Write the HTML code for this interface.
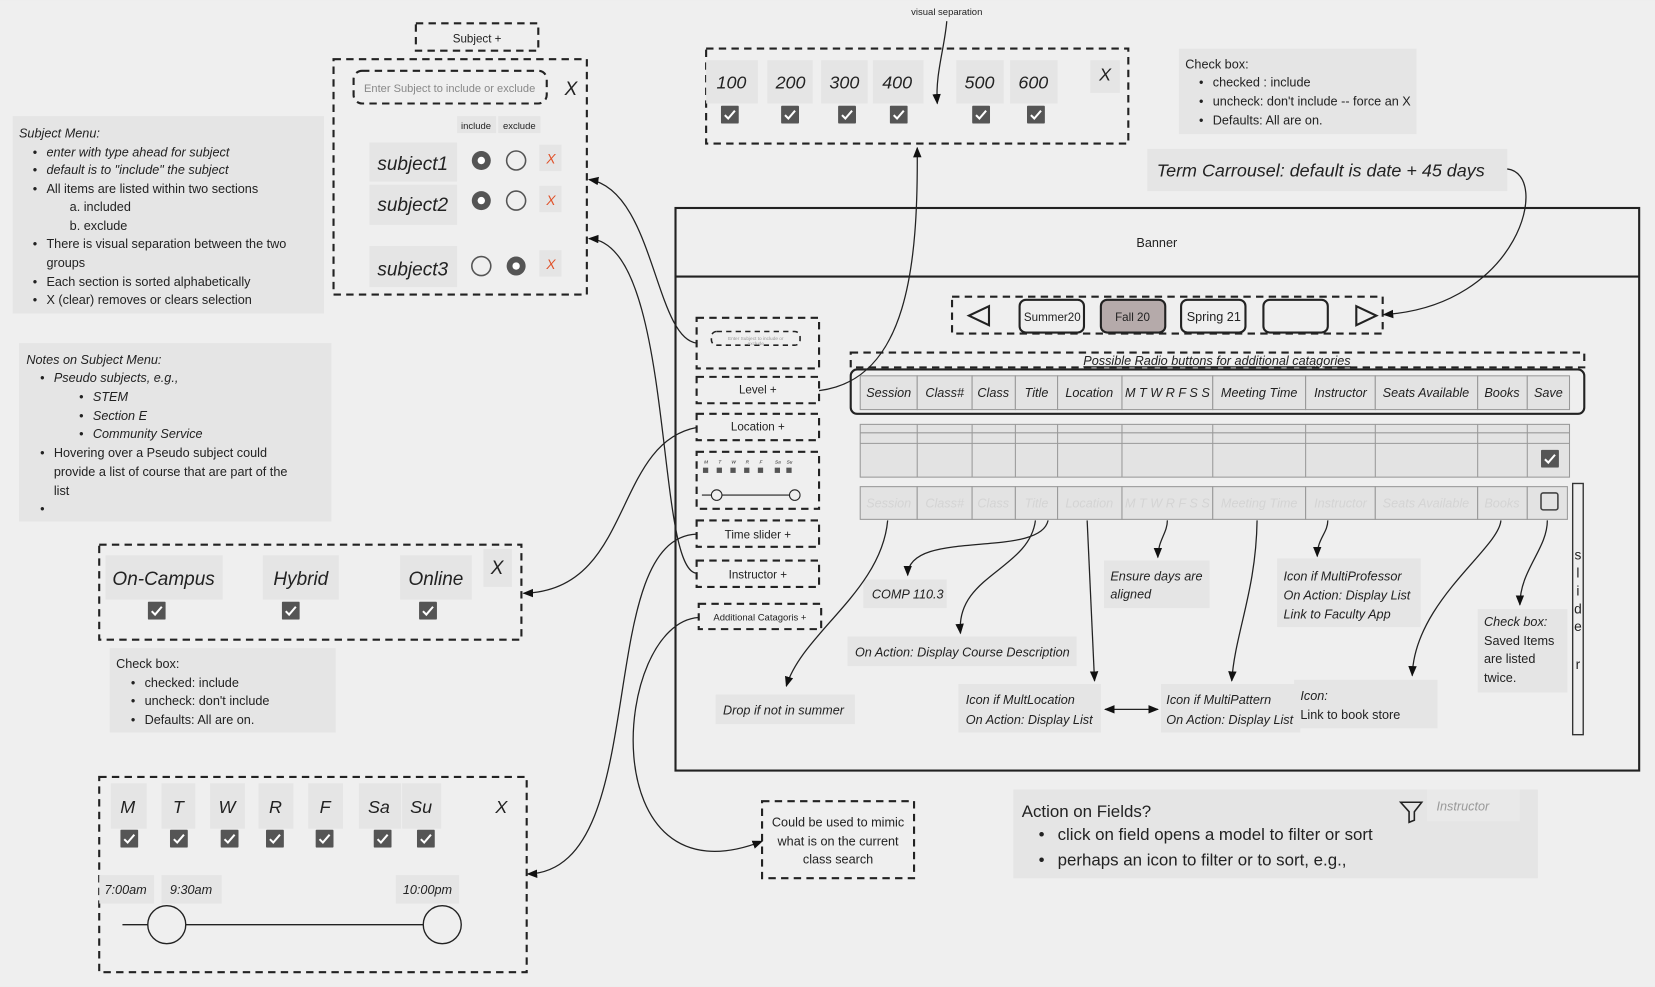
<!DOCTYPE html>
<html><head><meta charset="utf-8"><style>
html,body{margin:0;padding:0;background:#efefef;}
svg{display:block;}
text{font-family:"Liberation Sans",sans-serif;fill:#222;}
.it{font-style:italic;}
.d{fill:none;stroke:#222;stroke-width:2;stroke-dasharray:7,5;}
.n{fill:#e5e5e5;}
.c{fill:none;stroke:#222;stroke-width:1.2;}
.h{fill:#e3e3e3;stroke:#999;stroke-width:1;}
.f{fill:#c8c8c8;}
</style></head><body>
<svg width="1655" height="987" viewBox="0 0 1568 935" xmlns="http://www.w3.org/2000/svg">
<defs>
<marker id="a" markerWidth="10" markerHeight="10" refX="9" refY="5" orient="auto" markerUnits="userSpaceOnUse"><path d="M0,1 L10,5 L0,9 Z" fill="#111"/></marker>
<marker id="b" markerWidth="10" markerHeight="10" refX="1" refY="5" orient="auto" markerUnits="userSpaceOnUse"><path d="M10,1 L0,5 L10,9 Z" fill="#111"/></marker>
<symbol id="cb" viewBox="0 0 16 16"><rect x="0" y="0" width="16" height="16" rx="1" fill="#555"/><path d="M3.5,8.5 L6.5,11.5 L12.5,4.5" stroke="#fff" stroke-width="1.8" fill="none"/></symbol>
</defs>
<rect width="1568" height="935" fill="#efefef"/>

<!-- Subject tab & panel -->
<rect class="d" x="394" y="22" width="116" height="26"/>
<text x="452" y="40" font-size="11" text-anchor="middle">Subject   +</text>
<rect class="d" x="316" y="56" width="240" height="223"/>
<rect class="d" x="335" y="67" width="183" height="31" rx="8"/>
<text x="426" y="87" font-size="10.5" fill="#888" style="fill:#888" text-anchor="middle">Enter Subject to include or exclude</text>
<text x="541" y="90" font-size="18" class="it" text-anchor="middle">X</text>
<rect class="n" x="433" y="110" width="37" height="16"/><text x="451" y="122" font-size="9" text-anchor="middle">include</text>
<rect class="n" x="472" y="110" width="40" height="16"/><text x="492" y="122" font-size="9" text-anchor="middle">exclude</text>
<rect class="n" x="350" y="135" width="83" height="37"/><text x="391" y="161" font-size="18" class="it" text-anchor="middle">subject1</text>
<rect class="n" x="350" y="175" width="83" height="38"/><text x="391" y="200" font-size="18" class="it" text-anchor="middle">subject2</text>
<rect class="n" x="350" y="233" width="83" height="39"/><text x="391" y="261" font-size="18" class="it" text-anchor="middle">subject3</text>
<circle cx="456" cy="152" r="9" fill="#555"/><circle cx="456" cy="152" r="3.5" fill="#fff"/>
<circle cx="489" cy="152" r="9" fill="none" stroke="#555" stroke-width="1.5"/>
<circle cx="456" cy="190" r="9" fill="#555"/><circle cx="456" cy="190" r="3.5" fill="#fff"/>
<circle cx="489" cy="190" r="9" fill="none" stroke="#555" stroke-width="1.5"/>
<circle cx="456" cy="252" r="9" fill="none" stroke="#555" stroke-width="1.5"/>
<circle cx="489" cy="252" r="9" fill="#555"/><circle cx="489" cy="252" r="3.5" fill="#fff"/>
<rect class="n" x="511" y="137" width="21" height="25"/><text x="522" y="155" font-size="13" class="it" style="fill:#e0522a" text-anchor="middle">X</text>
<rect class="n" x="511" y="176" width="21" height="25"/><text x="522" y="194" font-size="13" class="it" style="fill:#e0522a" text-anchor="middle">X</text>
<rect class="n" x="511" y="237" width="21" height="25"/><text x="522" y="255" font-size="13" class="it" style="fill:#e0522a" text-anchor="middle">X</text>

<!-- Note 1 -->
<rect class="n" x="12" y="110" width="295" height="187"/>
<g font-size="12">
<text x="18" y="130" class="it">Subject  Menu:</text>
<text x="31" y="148">•</text><text x="44" y="148" class="it">enter with type ahead for subject</text>
<text x="31" y="165">•</text><text x="44" y="165" class="it">default is to "include" the subject</text>
<text x="31" y="183">•</text><text x="44" y="183">All items are listed within two sections</text>
<text x="66" y="200">a. included</text>
<text x="66" y="218">b. exclude</text>
<text x="31" y="235">•</text><text x="44" y="235">There is visual separation between the two</text>
<text x="44" y="253">groups</text>
<text x="31" y="271">•</text><text x="44" y="271">Each section is sorted alphabetically</text>
<text x="31" y="288">•</text><text x="44" y="288">X (clear) removes or clears selection</text>
</g>
<!-- Note 2 -->
<rect class="n" x="18" y="325" width="296" height="169"/>
<g font-size="12">
<text x="25" y="345" class="it">Notes on Subject Menu:</text>
<text x="38" y="362">•</text><text x="51" y="362" class="it">Pseudo subjects, e.g.,</text>
<text x="75" y="380">•</text><text x="88" y="380" class="it">STEM</text>
<text x="75" y="398">•</text><text x="88" y="398" class="it">Section E</text>
<text x="75" y="415">•</text><text x="88" y="415" class="it">Community Service</text>
<text x="38" y="433">•</text><text x="51" y="433">Hovering over a Pseudo subject could</text>
<text x="51" y="451">provide a list of course that are part of the</text>
<text x="51" y="469">list</text>
<text x="38" y="486">•</text>
</g>

<!-- Location panel -->
<rect class="d" x="94" y="516" width="400" height="90"/>
<rect class="n" x="100" y="526" width="111" height="42"/><text x="155" y="554" font-size="18" class="it" text-anchor="middle">On-Campus</text>
<rect class="n" x="249" y="526" width="72" height="42"/><text x="285" y="554" font-size="18" class="it" text-anchor="middle">Hybrid</text>
<rect class="n" x="379" y="526" width="68" height="42"/><text x="413" y="554" font-size="18" class="it" text-anchor="middle">Online</text>
<rect class="n" x="458" y="520" width="27" height="36"/><text x="471" y="544" font-size="18" class="it" text-anchor="middle">X</text>
<use href="#cb" x="140" y="570" width="17" height="17"/>
<use href="#cb" x="267" y="570" width="17" height="17"/>
<use href="#cb" x="397" y="570" width="17" height="17"/>
<rect class="n" x="104" y="614" width="214" height="80"/>
<g font-size="12">
<text x="110" y="633">Check box:</text>
<text x="124" y="651">•</text><text x="137" y="651">checked: include</text>
<text x="124" y="668">•</text><text x="137" y="668">uncheck: don't include</text>
<text x="124" y="686">•</text><text x="137" y="686">Defaults: All are on.</text>
</g>

<!-- Days panel -->
<rect class="d" x="94" y="736" width="405" height="185"/>
<g font-size="17" class="it" text-anchor="middle">
<rect class="n" x="105" y="742" width="34" height="43"/><text x="121" y="770">M</text>
<rect class="n" x="153" y="742" width="32" height="43"/><text x="169" y="770">T</text>
<rect class="n" x="199" y="742" width="33" height="43"/><text x="215" y="770">W</text>
<rect class="n" x="245" y="742" width="33" height="43"/><text x="261" y="770">R</text>
<rect class="n" x="292" y="742" width="33" height="43"/><text x="308" y="770">F</text>
<rect class="n" x="340" y="742" width="40" height="43"/><text x="359" y="770">Sa</text>
<rect class="n" x="381" y="742" width="37" height="43"/><text x="399" y="770">Su</text>
<text x="475" y="770">X</text>
</g>
<use href="#cb" x="114" y="786" width="17" height="17"/>
<use href="#cb" x="161" y="786" width="17" height="17"/>
<use href="#cb" x="209" y="786" width="17" height="17"/>
<use href="#cb" x="252" y="786" width="17" height="17"/>
<use href="#cb" x="299" y="786" width="17" height="17"/>
<use href="#cb" x="354" y="786" width="17" height="17"/>
<use href="#cb" x="395" y="786" width="17" height="17"/>
<rect class="n" x="94" y="829" width="52" height="27"/><text x="119" y="847" font-size="12" class="it" text-anchor="middle">7:00am</text>
<rect class="n" x="153" y="829" width="57" height="27"/><text x="181" y="847" font-size="12" class="it" text-anchor="middle">9:30am</text>
<rect class="n" x="375" y="829" width="60" height="27"/><text x="405" y="847" font-size="12" class="it" text-anchor="middle">10:00pm</text>
<line x1="116" y1="876" x2="420" y2="876" stroke="#222" stroke-width="1.3"/>
<circle cx="158" cy="876" r="18" fill="#efefef" stroke="#222" stroke-width="1.3"/>
<circle cx="419" cy="876" r="18" fill="#efefef" stroke="#222" stroke-width="1.3"/>

<!-- Level panel -->
<text x="897" y="14" font-size="9" text-anchor="middle">visual separation</text>
<path class="c" d="M897,20 C895,45 886,70 888,98" marker-end="url(#a)"/>
<rect class="d" x="669" y="46" width="400" height="90"/>
<g font-size="17" class="it" text-anchor="middle">
<rect class="n" x="669" y="57" width="49" height="41"/><text x="693" y="84">100</text>
<rect class="n" x="727" y="57" width="43" height="41"/><text x="749" y="84">200</text>
<rect class="n" x="778" y="57" width="44" height="41"/><text x="800" y="84">300</text>
<rect class="n" x="827" y="57" width="48" height="41"/><text x="850" y="84">400</text>
<rect class="n" x="906" y="57" width="45" height="41"/><text x="928" y="84">500</text>
<rect class="n" x="957" y="57" width="45" height="41"/><text x="979" y="84">600</text>
<rect class="n" x="1033" y="57" width="28" height="31"/><text x="1047" y="76">X</text>
</g>
<use href="#cb" x="683" y="100" width="17" height="17"/>
<use href="#cb" x="740" y="100" width="17" height="17"/>
<use href="#cb" x="794" y="100" width="17" height="17"/>
<use href="#cb" x="843" y="100" width="17" height="17"/>
<use href="#cb" x="921" y="100" width="17" height="17"/>
<use href="#cb" x="973" y="100" width="17" height="17"/>

<rect class="n" x="1117" y="46" width="225" height="81"/>
<g font-size="12">
<text x="1123" y="65">Check box:</text>
<text x="1136" y="82">•</text><text x="1149" y="82">checked :  include</text>
<text x="1136" y="100">•</text><text x="1149" y="100">uncheck: don't include -- force an X</text>
<text x="1136" y="118">•</text><text x="1149" y="118">Defaults: All are on.</text>
</g>
<rect class="n" x="1087" y="141" width="341" height="40"/>
<text x="1096" y="167" font-size="17" class="it">Term Carrousel: default is date  + 45 days</text>

<!-- Main frame -->
<rect x="640" y="197" width="913" height="533" fill="none" stroke="#222" stroke-width="2"/>
<line x1="640" y1="262" x2="1553" y2="262" stroke="#222" stroke-width="2"/>
<text x="1096" y="234" font-size="12" text-anchor="middle">Banner</text>

<rect class="d" x="902" y="281" width="408" height="35"/>
<path d="M937,290 L918,299 L937,308 Z" fill="none" stroke="#222" stroke-width="2"/>
<path d="M1285,290 L1304,299 L1285,308 Z" fill="none" stroke="#222" stroke-width="2"/>
<rect x="966" y="284" width="61" height="31" rx="6" fill="none" stroke="#222" stroke-width="2"/><text x="997" y="304" font-size="11" text-anchor="middle">Summer20</text>
<rect x="1043" y="284" width="61" height="31" rx="6" fill="#b5aaaa" stroke="#222" stroke-width="2"/><text x="1073" y="304" font-size="11" text-anchor="middle">Fall 20</text>
<rect x="1119" y="284" width="61" height="31" rx="6" fill="none" stroke="#222" stroke-width="2"/><text x="1150" y="304" font-size="12" text-anchor="middle">Spring 21</text>
<rect x="1197" y="284" width="61" height="31" rx="6" fill="none" stroke="#222" stroke-width="2"/>

<rect class="d" x="806" y="334" width="695" height="14"/>
<text x="1153" y="346" font-size="12" class="it" text-anchor="middle" text-decoration="underline">Possible Radio buttons for additional catagories</text>
<rect x="806" y="350" width="695" height="42" rx="6" fill="none" stroke="#222" stroke-width="2"/>
<g font-size="12" class="it" text-anchor="middle">
<rect class="h" x="815" y="356" width="54" height="32"/><text x="842" y="376">Session</text>
<rect class="h" x="869" y="356" width="52" height="32"/><text x="895" y="376">Class#</text>
<rect class="h" x="921" y="356" width="41" height="32"/><text x="941" y="376">Class</text>
<rect class="h" x="962" y="356" width="40" height="32"/><text x="982" y="376">Title</text>
<rect class="h" x="1002" y="356" width="61" height="32"/><text x="1032" y="376">Location</text>
<rect class="h" x="1063" y="356" width="86" height="32"/><text x="1106" y="376">M T W R F S S</text>
<rect class="h" x="1149" y="356" width="88" height="32"/><text x="1193" y="376">Meeting Time</text>
<rect class="h" x="1237" y="356" width="66" height="32"/><text x="1270" y="376">Instructor</text>
<rect class="h" x="1303" y="356" width="97" height="32"/><text x="1351" y="376">Seats Available</text>
<rect class="h" x="1400" y="356" width="47" height="32"/><text x="1423" y="376">Books</text>
<rect class="h" x="1447" y="356" width="40" height="32"/><text x="1467" y="376">Save</text>
</g>
<!-- grid row -->
<rect class="h" x="815" y="402" width="672" height="50"/>
<g stroke="#999" stroke-width="1">
<line x1="815" y1="410" x2="1487" y2="410"/><line x1="815" y1="420" x2="1487" y2="420"/>
<line x1="869" y1="402" x2="869" y2="452"/><line x1="921" y1="402" x2="921" y2="452"/><line x1="962" y1="402" x2="962" y2="452"/><line x1="1002" y1="402" x2="1002" y2="452"/><line x1="1063" y1="402" x2="1063" y2="452"/><line x1="1149" y1="402" x2="1149" y2="452"/><line x1="1237" y1="402" x2="1237" y2="452"/><line x1="1303" y1="402" x2="1303" y2="452"/><line x1="1400" y1="402" x2="1400" y2="452"/><line x1="1447" y1="402" x2="1447" y2="452"/>
</g>
<use href="#cb" x="1460" y="426" width="17" height="17"/>
<g font-size="12" class="it" text-anchor="middle" style="fill:#d6d6d6">
<rect class="h" x="815" y="461" width="54" height="31"/><text x="842" y="481" style="fill:#d4d4d4">Session</text>
<rect class="h" x="869" y="461" width="52" height="31"/><text x="895" y="481" style="fill:#d4d4d4">Class#</text>
<rect class="h" x="921" y="461" width="41" height="31"/><text x="941" y="481" style="fill:#d4d4d4">Class</text>
<rect class="h" x="962" y="461" width="40" height="31"/><text x="982" y="481" style="fill:#d4d4d4">Title</text>
<rect class="h" x="1002" y="461" width="61" height="31"/><text x="1032" y="481" style="fill:#d4d4d4">Location</text>
<rect class="h" x="1063" y="461" width="86" height="31"/><text x="1106" y="481" style="fill:#d4d4d4">M T W R F S S</text>
<rect class="h" x="1149" y="461" width="88" height="31"/><text x="1193" y="481" style="fill:#d4d4d4">Meeting Time</text>
<rect class="h" x="1237" y="461" width="66" height="31"/><text x="1270" y="481" style="fill:#d4d4d4">Instructor</text>
<rect class="h" x="1303" y="461" width="97" height="31"/><text x="1351" y="481" style="fill:#d4d4d4">Seats Available</text>
<rect class="h" x="1400" y="461" width="47" height="31"/><text x="1423" y="481" style="fill:#d4d4d4">Books</text>
<rect class="h" x="1447" y="461" width="38" height="31"/>
</g>
<rect x="1460" y="467" width="16" height="16" rx="2" fill="none" stroke="#444" stroke-width="1.5"/>
<rect x="1490" y="458" width="10" height="238" fill="none" stroke="#333" stroke-width="1.3"/>
<g font-size="13" text-anchor="middle"><text x="1495" y="530">s</text><text x="1495" y="547">l</text><text x="1495" y="564">i</text><text x="1495" y="581">d</text><text x="1495" y="598">e</text><text x="1495" y="634">r</text></g>

<!-- Left column boxes -->
<rect class="d" x="660" y="301" width="116" height="48"/>
<rect x="674" y="314" width="84" height="13" rx="5" fill="none" stroke="#222" stroke-width="1.5" stroke-dasharray="5,4"/>
<text x="716" y="322" font-size="4.5" text-anchor="middle" style="fill:#999">Enter Subject to include or</text>
<text x="716" y="327" font-size="4.5" text-anchor="middle" style="fill:#999">exclude</text>
<rect class="d" x="660" y="357" width="116" height="25"/><text x="718" y="373" font-size="11" text-anchor="middle">Level    +</text>
<rect class="d" x="660" y="392" width="116" height="25"/><text x="718" y="408" font-size="11" text-anchor="middle">Location +</text>
<rect class="d" x="660" y="428" width="116" height="54"/>
<g font-size="4.5" class="it" text-anchor="middle"><text x="669" y="439">M</text><text x="682" y="439">T</text><text x="695" y="439">W</text><text x="708" y="439">R</text><text x="721" y="439">F</text><text x="737" y="439">Sa</text><text x="748" y="439">Su</text></g>
<g fill="#555"><rect x="666" y="443" width="5" height="5"/><rect x="679" y="443" width="5" height="5"/><rect x="692" y="443" width="5" height="5"/><rect x="705" y="443" width="5" height="5"/><rect x="718" y="443" width="5" height="5"/><rect x="734" y="443" width="5" height="5"/><rect x="745" y="443" width="5" height="5"/></g>
<line x1="665" y1="469" x2="753" y2="469" stroke="#222"/>
<circle cx="679" cy="469" r="5" fill="#efefef" stroke="#222"/><circle cx="753" cy="469" r="5" fill="#efefef" stroke="#222"/>
<rect class="d" x="660" y="493" width="116" height="25"/><text x="718" y="510" font-size="11" text-anchor="middle">Time slider +</text>
<rect class="d" x="660" y="531" width="116" height="25"/><text x="718" y="548" font-size="11" text-anchor="middle">Instructor    +</text>
<rect class="d" x="662" y="572" width="116" height="24"/><text x="720" y="588" font-size="9" text-anchor="middle">Additional Catagoris    +</text>

<!-- In-frame notes -->
<g font-size="12" class="it">
<rect class="n" x="818" y="549" width="79" height="27"/><text x="826" y="567">COMP 110.3</text>
<rect class="n" x="803" y="603" width="217" height="28"/><text x="810" y="622">On Action: Display Course Description</text>
<rect class="n" x="1046" y="531" width="100" height="45"/><text x="1052" y="550">Ensure days are</text><text x="1052" y="567">aligned</text>
<rect class="n" x="1210" y="529" width="136" height="65"/><text x="1216" y="550">Icon if MultiProfessor</text><text x="1216" y="568">On Action: Display List</text><text x="1216" y="586">Link to Faculty App</text>
<rect class="n" x="678" y="658" width="132" height="28"/><text x="685" y="677">Drop if not in summer</text>
<rect class="n" x="908" y="648" width="135" height="46"/><text x="915" y="667">Icon if MultLocation</text><text x="915" y="686">On Action: Display List</text>
<rect class="n" x="1100" y="648" width="132" height="46"/><text x="1105" y="667">Icon if MultiPattern</text><text x="1105" y="686">On Action: Display List</text>
<rect class="n" x="1226" y="644" width="136" height="46"/><text x="1232" y="663">Icon:</text>
<rect class="n" x="1400" y="577" width="85" height="79"/><text x="1406" y="593">Check box:</text>
</g>
<g font-size="12">
<text x="1232" y="681">Link to book store</text>
<text x="1406" y="611">Saved Items</text><text x="1406" y="628">are listed</text><text x="1406" y="646">twice.</text>
</g>

<!-- connectors in frame -->
<path class="c" d="M841,493 C835,560 760,600 745,650" marker-end="url(#a)"/>
<path class="c" d="M993,493 C985,530 860,500 860,545" marker-end="url(#a)"/>
<path class="c" d="M981,493 C975,540 905,545 910,600" marker-end="url(#a)"/>
<path class="c" d="M1030,493 L1037,645" marker-end="url(#a)"/>
<path class="c" d="M1106,493 C1106,505 1097,512 1097,528" marker-end="url(#a)"/>
<path class="c" d="M1191,493 C1190,560 1170,600 1167,645" marker-end="url(#a)"/>
<path class="c" d="M1258,493 C1258,505 1248,510 1248,527" marker-end="url(#a)"/>
<path class="c" d="M1422,493 C1420,520 1340,570 1338,640" marker-end="url(#a)"/>
<path class="c" d="M1466,493 C1466,520 1440,540 1440,573" marker-end="url(#a)"/>
<path class="c" d="M1047,672 L1097,672" marker-start="url(#b)" marker-end="url(#a)"/>

<!-- long connectors -->
<path class="c" d="M660,325 C620,320 620,180 558,170" marker-end="url(#a)"/>
<path class="c" d="M660,543 C620,540 640,230 558,226" marker-end="url(#a)"/>
<path class="c" d="M776,370 C860,360 870,250 869,140" marker-end="url(#a)"/>
<path class="c" d="M660,405 C580,420 600,560 496,562" marker-end="url(#a)"/>
<path class="c" d="M660,506 C560,510 620,825 500,828" marker-end="url(#a)"/>
<path class="c" d="M662,585 C580,590 560,860 722,797" marker-end="url(#a)"/>
<path class="c" d="M1428,160 C1470,165 1440,290 1311,298" marker-end="url(#a)"/>

<rect class="d" x="722" y="759" width="144" height="73"/>
<g font-size="12" text-anchor="middle"><text x="794" y="783">Could be used to mimic</text><text x="794" y="801">what is on the current</text><text x="794" y="818">class search</text></g>

<!-- Action note -->
<rect class="n" x="960" y="748" width="497" height="84"/>
<text x="968" y="774" font-size="16">Action on Fields?</text>
<text x="984" y="796" font-size="16">•</text><text x="1002" y="796" font-size="16">click on field opens a model to filter or sort</text>
<text x="984" y="820" font-size="16">•</text><text x="1002" y="820" font-size="16">perhaps an icon to filter or to sort, e.g.,</text>
<path d="M1327,760 L1347,760 L1340,769 L1340,777 L1335,779 L1335,769 Z" fill="none" stroke="#222" stroke-width="1.5"/>
<rect x="1352" y="748" width="88" height="30" fill="#e9e9e9"/>
<text x="1361" y="768" font-size="12" class="it" style="fill:#999">Instructor</text>
</svg>
</body></html>
